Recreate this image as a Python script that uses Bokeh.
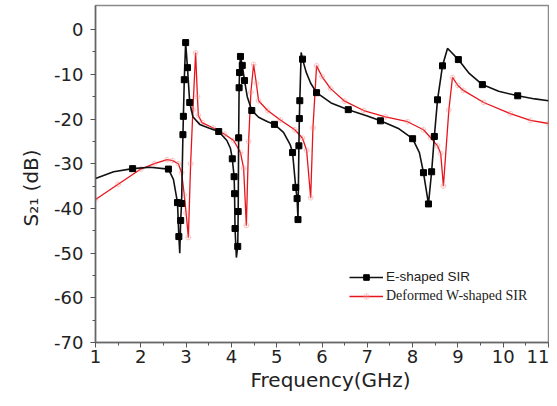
from bokeh.plotting import figure
from bokeh.models import Legend, LegendItem, FixedTicker, PrintfTickFormatter, Title
from bokeh.embed import file_html
from bokeh.resources import INLINE

# E-shaped SIR (black) line
e_freq = [1.00, 1.40, 1.82, 2.20, 2.61, 2.72, 2.81, 2.84, 2.86, 2.88, 2.90, 2.93, 2.94, 2.96, 2.99,
          3.03, 3.08, 3.15, 3.30, 3.50, 3.72, 3.90, 3.98, 4.02, 4.06, 4.07, 4.08, 4.11, 4.14, 4.15,
          4.16, 4.17, 4.18, 4.20, 4.24, 4.29, 4.35, 4.45, 4.60, 4.80, 4.95, 5.15, 5.30, 5.35, 5.42,
          5.45, 5.47, 5.49, 5.50, 5.51, 5.54, 5.57, 5.65, 5.75, 5.88, 6.20, 6.58, 7.00, 7.29, 7.70,
          8.00, 8.15, 8.24, 8.35, 8.42, 8.48, 8.55, 8.66, 8.77, 8.85, 9.01, 9.25, 9.54, 9.90, 10.32,
          10.70, 11.00]
e_s21 = [-33.3, -31.8, -31.1, -30.8, -31.2, -33.5, -38.7, -46.3, -50.0, -42.7, -38.9, -23.5, -19.4, -11.2, -2.9,
         -8.5, -16.3, -19.5, -21.2, -22.0, -22.8, -24.8, -26.6, -28.9, -32.9, -36.7, -44.5, -51.0, -48.5, -40.7,
         -24.2, -13.0, -9.6, -6.0, -8.0, -11.4, -15.0, -18.1, -19.6, -20.6, -21.2, -23.0, -25.8, -27.5, -35.3,
         -37.8, -42.5, -26.0, -19.9, -15.9, -5.1, -6.6, -9.5, -12.0, -14.1, -16.4, -17.9, -19.3, -20.4, -22.2,
         -24.4, -27.5, -32.0, -39.0, -31.8, -23.9, -15.7, -8.1, -4.2, -5.0, -6.7, -9.8, -12.3, -13.8, -14.8,
         -15.5, -15.9]
# E-shaped SIR markers
e_mark_freq = [1.82, 2.61, 2.81, 2.84, 2.88, 2.90, 2.93, 2.94, 2.96, 2.99, 3.03, 3.08, 3.72, 4.02, 4.06,
               4.07, 4.08, 4.14, 4.15, 4.16, 4.17, 4.18, 4.20, 4.24, 4.29, 4.45, 4.95, 5.35, 5.42, 5.45,
               5.47, 5.49, 5.50, 5.51, 5.57, 5.88, 6.58, 7.29, 8.00, 8.24, 8.35, 8.42, 8.48, 8.55, 8.66,
               9.01, 9.54, 10.32]
e_mark_s21 = [-31.1, -31.2, -38.7, -46.3, -42.7, -38.9, -23.5, -19.4, -11.2, -2.9, -8.5, -16.3, -22.8, -28.9, -32.9,
              -36.7, -44.5, -48.5, -40.7, -24.2, -13.0, -9.6, -6.0, -8.0, -11.4, -18.1, -21.2, -27.5, -35.3, -37.8,
              -42.5, -26.0, -19.9, -15.9, -6.6, -14.1, -17.9, -20.4, -24.4, -32.0, -39.0, -31.8, -23.9, -15.7, -8.1,
              -6.7, -12.3, -14.8]

# Deformed W-shaped SIR (red)
w_freq = [1.00, 1.50, 2.00, 2.30, 2.58, 2.70, 2.83, 2.90, 2.96, 3.00, 3.05, 3.10, 3.15, 3.21, 3.25,
          3.27, 3.35, 3.60, 3.85, 4.05, 4.20, 4.27, 4.33, 4.38, 4.43, 4.49, 4.55, 4.60, 4.80, 5.08,
          5.40, 5.57, 5.66, 5.75, 5.80, 5.88, 6.00, 6.19, 6.50, 6.92, 7.40, 7.89, 8.24, 8.40, 8.55,
          8.62, 8.68, 8.80, 8.88, 9.00, 9.12, 9.57, 10.16, 10.60, 11.00]
w_s21 = [-38.0, -34.6, -31.2, -30.0, -29.1, -29.3, -30.0, -32.0, -37.0, -41.0, -46.5, -30.0, -18.0, -5.2, -15.0,
         -19.2, -20.8, -22.0, -23.4, -24.8, -27.5, -31.0, -43.8, -25.0, -14.0, -7.8, -12.0, -15.9, -18.1, -20.2,
         -22.4, -24.3, -27.0, -37.6, -22.0, -8.1, -10.5, -13.2, -16.0, -18.1, -19.5, -20.6, -22.4, -24.2, -26.0,
         -27.7, -35.0, -18.0, -10.7, -12.5, -13.6, -16.3, -18.8, -20.3, -21.0]

x_ticks = [1, 2, 3, 4, 5, 6, 7, 8, 9, 10, 11]
y_ticks = [-70, -60, -50, -40, -30, -20, -10, 0]

p = figure(width=549, height=398, x_range=(1, 11), y_range=(-70, 5.4),
           output_backend="svg", toolbar_location=None,
           min_border_left=95, min_border_right=1, min_border_top=5, min_border_bottom=56)

p.xgrid.visible = False
p.ygrid.visible = False
p.outline_line_color = "#8a8a8a"
p.outline_line_width = 1.5

p.xaxis.ticker = FixedTicker(ticks=x_ticks, minor_ticks=[x + 0.5 for x in x_ticks[:-1]])
p.yaxis.ticker = FixedTicker(ticks=y_ticks, minor_ticks=[y + 5 for y in y_ticks[:-1]])

for ax in (p.xaxis, p.yaxis):
    ax.formatter = PrintfTickFormatter(format="%d")
    ax.axis_line_color = "#666666"
    ax.axis_line_width = 1.5
    ax.major_tick_line_color = "#555555"
    ax.minor_tick_line_color = "#555555"
    ax.major_tick_out = 5
    ax.major_tick_in = 0
    ax.minor_tick_out = 3
    ax.minor_tick_in = 0
    ax.major_label_text_font = "DejaVu Sans"
    ax.major_label_text_font_size = "18px"
    ax.major_label_text_color = "#222222"

p.xaxis.major_label_standoff = 2
p.yaxis.major_label_standoff = 7

p.add_layout(Title(text="Frequency(GHz)", align="left", offset=155, standoff=0,
                   text_font="DejaVu Sans", text_font_size="20px", text_font_style="normal",
                   text_color="#222222"), "below")
p.add_layout(Title(text="S\u2082\u2081 (dB)", align="left", offset=116, standoff=18,
                   text_font="DejaVu Sans", text_font_size="20px", text_font_style="normal",
                   text_color="#222222"), "left")

w_line = p.line(w_freq, w_s21, line_color="#e8141c", line_width=1.3)
w_mark = p.scatter(w_freq, w_s21, marker="circle_cross", size=5, line_color="#f08080",
                   line_alpha=0.35, fill_alpha=0)
e_line = p.line(e_freq, e_s21, line_color="#111111", line_width=1.6)
e_mark = p.scatter(e_mark_freq, e_mark_s21, marker="square", size=6, line_color="#000000",
                   fill_color="#000000")

leg1 = Legend(items=[LegendItem(label="E-shaped SIR", renderers=[e_line, e_mark])],
              location=(254, 58), padding=0, margin=0, border_line_color=None,
              background_fill_alpha=0, glyph_width=34, glyph_height=14, label_height=14,
              label_standoff=3, label_text_font="Liberation Sans", label_text_font_size="13.5px",
              label_text_color="#222222")
leg2 = Legend(items=[LegendItem(label="Deformed W-shaped SIR", renderers=[w_line, w_mark])],
              location=(254, 38), padding=0, margin=0, border_line_color=None,
              background_fill_alpha=0, glyph_width=34, glyph_height=14, label_height=14,
              label_standoff=3, label_text_font="Liberation Serif", label_text_font_size="14px",
              label_text_color="#222222")
p.add_layout(leg1)
p.add_layout(leg2)

open("out.html", "w").write(file_html(p, INLINE))
